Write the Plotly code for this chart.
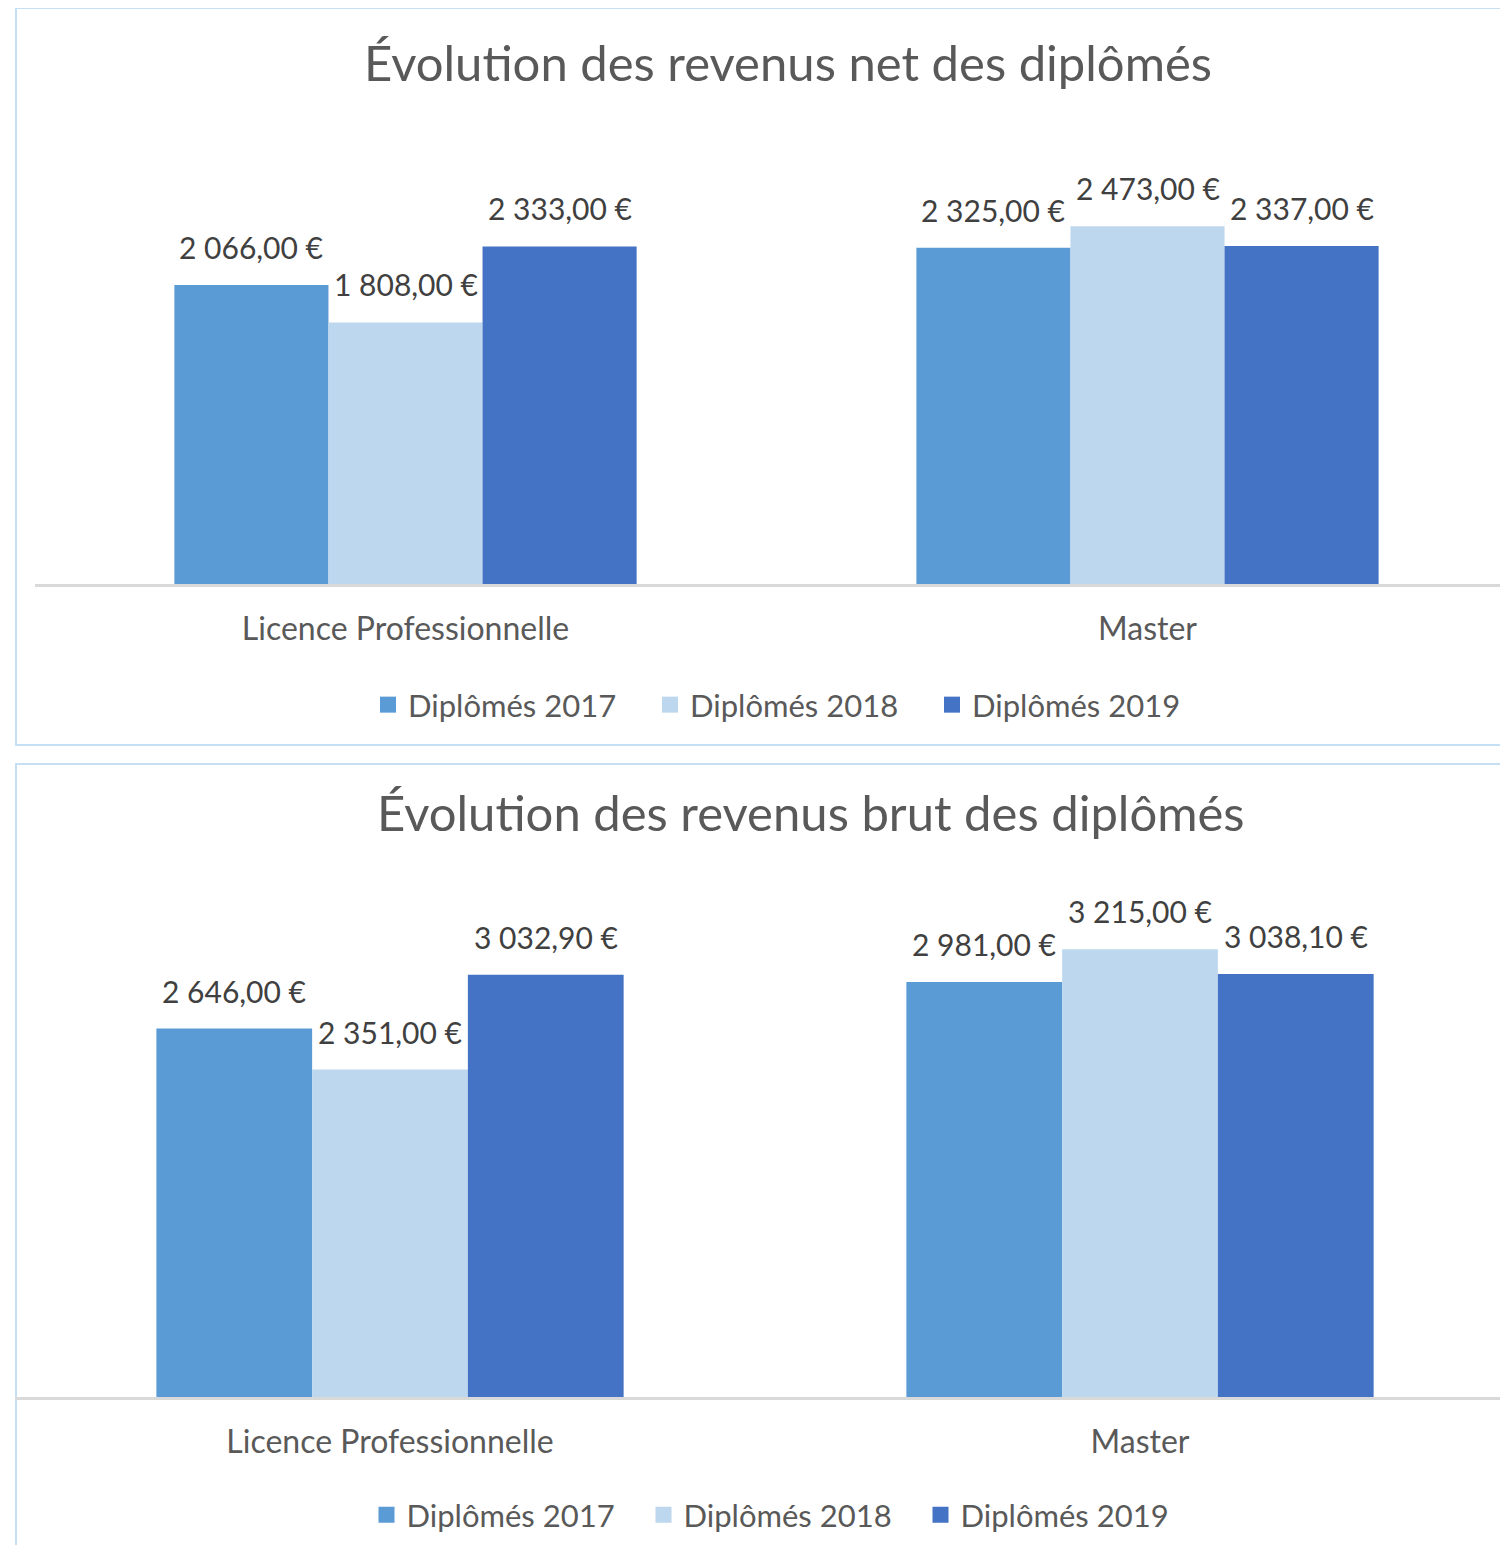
import plotly.graph_objects as go

# ---- data ----
categories = ["Licence Professionnelle", "Master"]
series_names = ["Diplômés 2017", "Diplômés 2018", "Diplômés 2019"]
series_colors = ["#5B9BD5", "#BDD7EE", "#4472C4"]

net_2017 = [2066.00, 2325.00]
net_2018 = [1808.00, 2473.00]
net_2019 = [2333.00, 2337.00]

brut_2017 = [2646.00, 2981.00]
brut_2018 = [2351.00, 3215.00]
brut_2019 = [3032.90, 3038.10]

title_net = "Évolution des revenus net des diplômés"
title_brut = "Évolution des revenus brut des diplômés"

# ---- layout constants ----
OFF = 8                    # page body margin
W, H = 1508 - OFF, 1545 - OFF
FONT = "Lato, 'Open Sans', sans-serif"
TXT = "#595959"
LBL = "#404040"
BARGAP = 0.377


def fmt(v):
    s = f"{v:,.2f}".replace(",", " ").replace(".", ",")
    return s + " €"


def px_x(p):
    return (p - OFF) / W


def px_y(p):
    return 1 - (p - OFF) / H


fig = go.Figure()
x_idx = list(range(len(categories)))

charts = [
    dict(vals=[net_2017, net_2018, net_2019], xa="x", ya="y", legend="legend"),
    dict(vals=[brut_2017, brut_2018, brut_2019], xa="x2", ya="y2", legend="legend2"),
]

annotations = []
bw = (1 - BARGAP) / 3
for c in charts:
    for k, (name, col, vals) in enumerate(zip(series_names, series_colors, c["vals"])):
        fig.add_trace(go.Bar(
            x=x_idx, y=vals, name=name, marker=dict(color=col, line=dict(width=0)),
            xaxis=c["xa"], yaxis=c["ya"], showlegend=False,
            offsetgroup=str(k), hoverinfo="skip",
        ))
        # legend entry with a larger square swatch
        fig.add_trace(go.Scatter(
            x=[None], y=[None], name=name, mode="markers",
            marker=dict(symbol="square", size=18, color=col),
            xaxis=c["xa"], yaxis=c["ya"], legend=c["legend"], hoverinfo="skip",
        ))
        for i, v in zip(x_idx, vals):
            annotations.append(dict(
                x=i + (k - 1) * bw, y=v, xref=c["xa"], yref=c["ya"],
                text=fmt(v), showarrow=False, yanchor="middle", xanchor="center",
                yshift=38, font=dict(family=FONT, size=30, color=LBL),
            ))

# titles
annotations.append(dict(x=px_x(788), y=px_y(62), xref="paper", yref="paper", text=title_net,
                        showarrow=False, xanchor="center", yanchor="middle",
                        font=dict(family=FONT, size=49, color=TXT)))
annotations.append(dict(x=px_x(811), y=px_y(812), xref="paper", yref="paper", text=title_brut,
                        showarrow=False, xanchor="center", yanchor="middle",
                        font=dict(family=FONT, size=49, color=TXT)))

border = "#C5DFF5"
shapes = [
    dict(type="rect", xref="paper", yref="paper", x0=px_x(16), x1=1.02, y0=px_y(745), y1=px_y(8),
         line=dict(color=border, width=2), fillcolor="rgba(0,0,0,0)", layer="below"),
    dict(type="rect", xref="paper", yref="paper", x0=px_x(16), x1=1.02, y0=-0.02, y1=px_y(764),
         line=dict(color=border, width=2), fillcolor="rgba(0,0,0,0)", layer="below"),
]

xcommon = dict(tickmode="array", tickvals=x_idx, ticktext=categories, showgrid=False,
               zeroline=False, showline=True, linecolor="#D9D9D9", linewidth=3,
               ticks="", tickfont=dict(family=FONT, size=32, color=TXT),
               ticklabelstandoff=15, fixedrange=True)
ycommon = dict(visible=False, showgrid=False, zeroline=False, fixedrange=True)

legcommon = dict(orientation="h", xanchor="center", yanchor="middle",
                 font=dict(family=FONT, size=31, color=TXT), bgcolor="rgba(0,0,0,0)",
                 itemclick=False, itemdoubleclick=False)

fig.update_layout(
    width=W, height=H, margin=dict(l=0, r=0, t=0, b=0),
    paper_bgcolor="white", plot_bgcolor="white",
    barmode="group", bargap=BARGAP, bargroupgap=0,
    xaxis=dict(**xcommon, domain=[px_x(34.5), 1], range=[-0.5, (1508 - 405.5) / 742], anchor="y"),
    yaxis=dict(**ycommon, domain=[px_y(584), px_y(150)], range=[0, 3000], anchor="x"),
    xaxis2=dict(**xcommon, domain=[px_x(15), 1], range=[-0.5, (1508 - 390) / 750], anchor="y2"),
    yaxis2=dict(**ycommon, domain=[px_y(1397), px_y(840)], range=[0, 4000], anchor="x2"),
    legend=dict(**legcommon, x=px_x(791), y=px_y(705), entrywidth=237),
    legend2=dict(**legcommon, x=px_x(782), y=px_y(1515), entrywidth=232),
    annotations=annotations,
    shapes=shapes,
    showlegend=True,
)

fig.write_html("out.html")
